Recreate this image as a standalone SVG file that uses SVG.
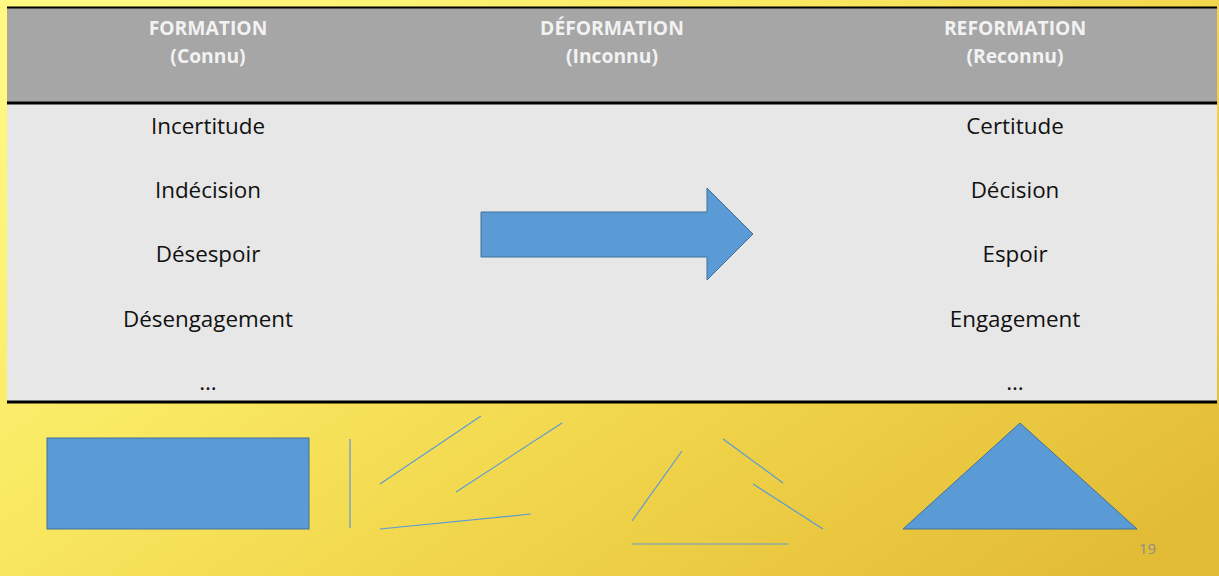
<svg xmlns="http://www.w3.org/2000/svg" width="1219" height="576" viewBox="0 0 1219 576">
  <defs>
    <linearGradient id="bg" x1="0" y1="0.15" x2="1" y2="0.85">
      <stop offset="0" stop-color="#fff982"/>
      <stop offset="0.35" stop-color="#f9e962"/>
      <stop offset="0.65" stop-color="#f0d44a"/>
      <stop offset="1" stop-color="#e3bc36"/>
    </linearGradient>
    <style>
      .hdr { font-family: "Open Sans", "Liberation Sans", sans-serif; font-weight: bold; font-size: 19.3px; fill: #f2f2f2; text-anchor: middle; }
      .cell { font-family: "Open Sans", "Liberation Sans", sans-serif; font-size: 22.4px; fill: #111111; text-anchor: middle; }
      .shape { fill: #5b9bd5; stroke: #41719c; stroke-width: 1; }
      .ln { stroke: #5b9bd5; stroke-width: 1.2; fill: none; }
      .rule { stroke: #000000; fill: none; }
      .pg { font-family: "Open Sans", "Liberation Sans", sans-serif; font-size: 15px; fill: #8c8c8c; }
    </style>
  </defs>

  <rect x="0" y="0" width="1219" height="576" fill="url(#bg)"/>

  <g id="table">
    <rect x="7" y="7" width="1210" height="96" fill="#a6a6a6"/>
    <rect x="7" y="103" width="1210" height="299" fill="#e7e7e7"/>
    <line class="rule" x1="7" y1="7.5" x2="1217" y2="7.5" stroke-width="2"/>
    <line class="rule" x1="7" y1="103" x2="1217" y2="103" stroke-width="3"/>
    <line class="rule" x1="7" y1="402" x2="1217" y2="402" stroke-width="3"/>
  </g>

  <g id="header-formation">
    <text class="hdr" x="208" y="35">FORMATION</text>
    <text class="hdr" x="208" y="63">(Connu)</text>
  </g>
  <g id="header-deformation">
    <text class="hdr" x="612" y="35">DÉFORMATION</text>
    <text class="hdr" x="612" y="63">(Inconnu)</text>
  </g>
  <g id="header-reformation">
    <text class="hdr" x="1015" y="35">REFORMATION</text>
    <text class="hdr" x="1015" y="63">(Reconnu)</text>
  </g>

  <g id="col-formation">
    <text class="cell" x="208" y="134">Incertitude</text>
    <text class="cell" x="208" y="198">Indécision</text>
    <text class="cell" x="208" y="262">Désespoir</text>
    <text class="cell" x="208" y="327">Désengagement</text>
    <text class="cell" x="208" y="390">…</text>
  </g>
  <g id="col-reformation">
    <text class="cell" x="1015" y="134">Certitude</text>
    <text class="cell" x="1015" y="198">Décision</text>
    <text class="cell" x="1015" y="262">Espoir</text>
    <text class="cell" x="1015" y="327">Engagement</text>
    <text class="cell" x="1015" y="390">…</text>
  </g>

  <g id="arrow">
    <polygon class="shape" points="481,212 707,212 707,188 753,234 707,280 707,257 481,257"/>
  </g>

  <g id="shape-rectangle">
    <rect class="shape" x="47" y="438" width="262" height="91"/>
  </g>

  <g id="broken-rectangle">
    <line class="ln" x1="350" y1="439" x2="350" y2="528"/>
    <line class="ln" x1="380" y1="484" x2="481" y2="416"/>
    <line class="ln" x1="456" y1="492" x2="562" y2="423"/>
    <line class="ln" x1="380" y1="529" x2="531" y2="514"/>
  </g>

  <g id="broken-triangle">
    <line class="ln" x1="632" y1="521" x2="682" y2="451"/>
    <line class="ln" x1="723" y1="439" x2="783" y2="483"/>
    <line class="ln" x1="753" y1="484" x2="823" y2="529"/>
    <line class="ln" x1="632" y1="544" x2="788" y2="544"/>
  </g>

  <g id="shape-triangle">
    <polygon class="shape" points="1020,423 1137,529 903,529"/>
  </g>

  <text class="pg" x="1139" y="554">19</text>
</svg>
